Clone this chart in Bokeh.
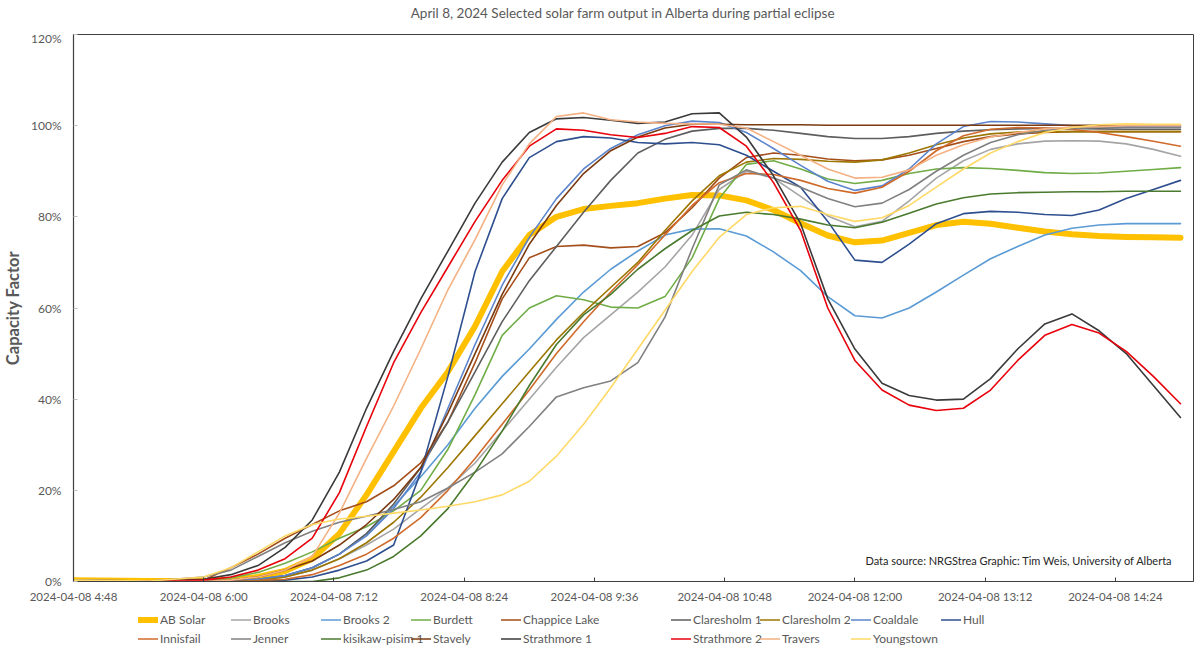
from bokeh.plotting import figure
from bokeh.layouts import column
from bokeh.models import Legend, LegendItem, FixedTicker, Label, Range1d, ColumnDataSource
from bokeh.embed import file_html
from bokeh.resources import INLINE

# ---------------- data ----------------
times = ["4:48", "5:30", "6:00", "6:15", "6:30", "6:45", "7:00", "7:15", "7:30", "7:45",
         "8:00", "8:15", "8:30", "8:45", "9:00", "9:15", "9:30", "9:45", "10:00", "10:15",
         "10:30", "10:45", "11:00", "11:15", "11:30", "11:45", "12:00", "12:15", "12:30", "12:45",
         "13:00", "13:15", "13:30", "13:45", "14:00", "14:15", "14:30", "14:45", "15:00"]

ab_solar = [0.3, 0.1, 0.1, 0.4, 1.0, 2.3, 5.0, 10.5, 19.0, 28.5, 38.0, 46.0, 56.0, 68.0, 76.0, 80.0, 81.7, 82.4, 83.0, 84.0,
            84.8, 84.7, 83.6, 81.5, 78.6, 75.9, 74.4, 74.8, 76.5, 78.2, 78.9, 78.5, 77.6, 76.8, 76.2, 75.8, 75.6, 75.5, 75.4]
brooks = [0, 0, 0, 0, 0.3, 1.0, 2.5, 5.0, 8.0, 11.5, 16.0, 20.5, 26.0, 33.0, 40.0, 47.0, 53.5, 58.5, 63.5, 69.0,
          76.0, 86.0, 90.0, 88.5, 84.5, 80.2, 77.8, 79.0, 83.5, 88.5, 92.3, 94.8, 96.0, 96.6, 96.7, 96.6, 96.0, 94.8, 93.3]
brooks_2 = [0, 0, 0, 0, 0.4, 1.2, 3.0, 6.0, 10.5, 16.5, 23.0, 30.0, 38.0, 45.0, 51.0, 57.5, 63.5, 68.5, 72.5, 76.0,
            77.3, 77.4, 75.8, 72.3, 68.2, 62.5, 58.3, 57.8, 60.0, 63.5, 67.2, 70.8, 73.5, 76.0, 77.5, 78.2, 78.5, 78.5, 78.5]
burdett = [0.2, 0, 0.2, 0.8, 2.0, 4.0, 6.5, 9.5, 12.0, 15.5, 20.0, 29.0, 41.0, 54.0, 60.0, 62.7, 61.8, 60.2, 60.0, 62.5,
           71.0, 84.0, 91.5, 92.3, 90.5, 88.3, 87.3, 88.0, 89.5, 90.5, 90.8, 90.6, 90.2, 89.7, 89.5, 89.6, 90.0, 90.4, 90.8]
chappice_lake = [0.3, 0.1, 0.3, 3.0, 6.0, 9.5, 12.5, 15.5, 17.5, 21.0, 26.0, 35.0, 48.0, 62.0, 71.0, 73.5, 73.8, 73.2, 73.5, 76.5,
                 82.0, 88.5, 93.0, 94.0, 93.5, 92.7, 92.3, 92.5, 93.5, 95.0, 96.5, 97.6, 98.2, 98.5, 98.7, 98.7, 98.7, 98.7, 98.7]
claresholm_1 = [0, 0, 0, 0, 0.5, 1.3, 3.0, 6.0, 10.5, 17.0, 25.0, 35.0, 46.0, 57.0, 66.0, 73.5, 81.0, 88.0, 94.0, 97.0,
                98.8, 99.4, 99.4, 99.0, 98.3, 97.6, 97.2, 97.2, 97.6, 98.3, 98.8, 99.1, 99.3, 99.4, 99.4, 99.3, 99.2, 99.2, 99.2]
claresholm_2 = [0, 0, 0, 0, 0.3, 1.0, 2.5, 5.0, 8.5, 13.0, 18.5, 25.0, 32.0, 39.0, 46.0, 53.0, 59.0, 64.5, 70.0, 77.0,
                83.5, 89.0, 92.0, 92.8, 92.6, 92.2, 92.0, 92.5, 94.0, 95.8, 97.3, 98.2, 98.6, 98.7, 98.7, 98.7, 98.7, 98.7, 98.7]
coaldale = [0, 0, 0, 0.2, 0.5, 1.3, 3.0, 6.0, 10.0, 16.0, 24.0, 38.0, 52.0, 65.0, 75.5, 84.0, 90.5, 95.0, 98.0, 100.0,
            101.0, 100.7, 98.5, 95.0, 91.3, 87.8, 85.8, 86.8, 90.5, 96.0, 99.8, 100.9, 100.8, 100.4, 100.0, 99.8, 99.8, 99.8, 99.8]
hull = [0, 0, 0, 0, 0, 0.3, 1.0, 2.5, 4.5, 8.0, 24.0, 45.0, 68.0, 84.0, 93.0, 96.5, 97.6, 97.3, 96.3, 96.0,
        96.3, 95.8, 93.5, 90.0, 86.5, 79.0, 70.5, 70.0, 74.0, 78.5, 80.7, 81.2, 81.0, 80.5, 80.3, 81.5, 84.0, 86.0, 88.0]
innisfail = [0, 0, 0, 0, 0.2, 0.5, 1.5, 3.5, 6.0, 9.5, 14.0, 20.0, 27.0, 34.5, 42.0, 50.0, 57.0, 63.5, 69.5, 76.0,
             82.5, 87.5, 89.5, 89.3, 88.0, 86.2, 85.2, 86.5, 90.0, 94.5, 97.8, 99.2, 99.6, 99.5, 99.2, 98.5, 97.6, 96.6, 95.5]
jenner = [0.3, 0.1, 1.0, 2.5, 5.5, 8.5, 11.0, 13.0, 14.3, 15.8, 17.5, 20.5, 24.0, 28.0, 34.0, 40.5, 42.5, 44.0, 48.0, 58.0,
          73.0, 87.0, 90.3, 88.5, 86.5, 84.0, 82.2, 83.0, 86.0, 90.0, 93.5, 96.3, 98.0, 99.0, 99.4, 99.6, 99.6, 99.6, 99.6]
kisikaw_pisim_1 = [0, 0, 0, 0, 0, 0, 0, 0.8, 2.5, 5.5, 10.0, 16.0, 24.0, 33.0, 43.0, 52.0, 58.5, 63.0, 68.5, 73.0,
                   77.0, 80.2, 81.0, 80.5, 79.5, 78.2, 77.6, 78.8, 80.8, 82.8, 84.2, 85.0, 85.3, 85.4, 85.5, 85.5, 85.6, 85.6, 85.6]
stavely = [0, 0, 0, 0.3, 1.0, 2.5, 4.5, 8.0, 12.5, 18.0, 25.0, 37.0, 50.0, 63.0, 74.0, 82.5, 89.5, 94.5, 97.5, 99.5,
           100.3, 100.3, 100.2, 100.2, 100.2, 100.1, 100.1, 100.1, 100.1, 100.1, 100.1, 100.1, 100.1, 100.1, 100.1, 100.1, 100.1, 100.1, 100.1]
strathmore_1 = [0, 0, 0.5, 1.5, 3.5, 7.5, 13.5, 24.0, 38.0, 50.5, 62.0, 72.5, 83.0, 92.0, 98.5, 101.5, 101.8, 101.2, 100.5, 100.8,
                102.6, 102.8, 97.5, 89.0, 78.5, 62.0, 51.0, 43.5, 40.8, 39.8, 40.0, 44.5, 51.0, 56.5, 58.7, 55.0, 50.0, 43.0, 36.0]
strathmore_2 = [0, 0, 0.3, 1.0, 2.5, 5.0, 9.5, 19.5, 34.0, 48.0, 59.0, 69.0, 79.0, 88.0, 95.5, 99.3, 99.0, 98.0, 97.4, 98.3,
                99.8, 99.6, 95.5, 87.5, 77.0, 60.0, 48.5, 42.0, 38.7, 37.5, 38.0, 42.0, 48.5, 54.0, 56.4, 54.5, 50.5, 45.0, 39.0]
travers = [0, 0, 0, 0.3, 1.0, 2.5, 5.5, 15.0, 27.0, 38.5, 51.0, 64.0, 75.0, 87.0, 96.0, 102.0, 102.8, 101.3, 100.8, 100.5,
           100.4, 100.3, 99.5, 96.5, 93.5, 90.5, 88.5, 88.7, 90.3, 93.5, 95.8, 97.5, 98.5, 99.3, 99.7, 99.8, 100.0, 100.0, 100.0]
youngstown = [0.3, 0.1, 1.0, 3.0, 6.5, 10.0, 12.5, 13.7, 14.3, 15.0, 15.7, 16.5, 17.5, 19.0, 22.0, 27.5, 34.5, 42.5, 51.0, 59.5,
              68.0, 75.5, 80.5, 82.0, 82.3, 80.5, 79.0, 79.8, 82.5, 86.5, 90.5, 94.0, 96.5, 98.5, 99.6, 100.2, 100.4, 100.3, 100.3]

series_names = ["AB Solar", "Brooks", "Brooks 2", "Burdett", "Chappice Lake", "Claresholm 1", "Claresholm 2",
                "Coaldale", "Hull", "Innisfail", "Jenner", "kisikaw-pisim 1", "Stavely", "Strathmore 1",
                "Strathmore 2", "Travers", "Youngstown"]
series_values = [ab_solar, brooks, brooks_2, burdett, chappice_lake, claresholm_1, claresholm_2, coaldale, hull,
                 innisfail, jenner, kisikaw_pisim_1, stavely, strathmore_1, strathmore_2, travers, youngstown]

x_tick_times = ["4:48", "6:00", "7:12", "8:24", "9:36", "10:48", "12:00", "13:12", "14:24"]
x_tick_labels = ["2024-04-08 " + t for t in x_tick_times]
y_ticks = [0, 20, 40, 60, 80, 100, 120]
y_tick_labels = ["0%", "20%", "40%", "60%", "80%", "100%", "120%"]

title_text = "April 8, 2024 Selected solar farm output in Alberta during partial eclipse"
source_text = "Data source: NRGStrea Graphic: Tim Weis, University of Alberta"

# ---------------- styles ----------------
colors = {
    "AB Solar": "#FFC000", "Brooks": "#A5A5A5", "Brooks 2": "#5B9BD5", "Burdett": "#70AD47",
    "Chappice Lake": "#A44E1A", "Claresholm 1": "#5E5E5E", "Claresholm 2": "#9C7600",
    "Coaldale": "#5B84CC", "Hull": "#2E4F8F", "Innisfail": "#D06A2A", "Jenner": "#808080",
    "kisikaw-pisim 1": "#4A7A2E", "Stavely": "#7B3A10", "Strathmore 1": "#3A3A3A",
    "Strathmore 2": "#E8000B", "Travers": "#F4B183", "Youngstown": "#FFD966",
}
FONT = "Lato"
TXT = "#595959"


def to_h(s):
    h, m = s.split(":")
    return int(h) + int(m) / 60.0


x = [to_h(t) for t in times]
x_ticks = [to_h(t) for t in x_tick_times]

W = 1198
FRAME_L, FRAME_R = 70, 1193
H_TITLE = 30
H_MAIN = 576          # frame from page y 34 to 581
H_LEG = 42


def strip(height):
    f = figure(width=W, height=height, output_backend="svg", toolbar_location=None,
               x_axis_location=None, y_axis_location=None,
               x_range=Range1d(0, 1), y_range=Range1d(0, 1),
               min_border_left=FRAME_L, min_border_right=W - FRAME_R,
               min_border_top=0, min_border_bottom=0)
    f.xgrid.visible = False
    f.ygrid.visible = False
    f.outline_line_color = None
    f.background_fill_color = "white"
    f.border_fill_color = "white"
    return f


# title strip
t = strip(H_TITLE)
t.add_layout(Label(x=(621 - FRAME_L) / (FRAME_R - FRAME_L), y=(H_TITLE - 12) / H_TITLE,
                   text=title_text, text_align="center", text_baseline="middle",
                   text_font=FONT, text_font_size="13.5px", text_color=TXT))

# main chart
p = figure(width=W, height=H_MAIN, output_backend="svg", toolbar_location=None,
           x_range=Range1d(4.8, 15.12), y_range=Range1d(0, 120),
           min_border_left=FRAME_L, min_border_right=W - FRAME_R,
           min_border_top=34 - H_TITLE, min_border_bottom=H_MAIN - (581 - H_TITLE))

p.xgrid.visible = False
p.ygrid.visible = False
p.outline_line_color = "#3F3F3F"
p.outline_line_width = 1
p.background_fill_color = "white"
p.border_fill_color = "white"

p.xaxis.ticker = FixedTicker(ticks=x_ticks)
p.xaxis.major_label_overrides = dict(zip(x_ticks, x_tick_labels))
p.yaxis.ticker = FixedTicker(ticks=y_ticks)
p.yaxis.major_label_overrides = dict(zip(y_ticks, y_tick_labels))
for ax in (p.xaxis[0], p.yaxis[0]):
    ax.axis_line_color = "#3F3F3F"
    ax.axis_line_width = 1.2
    ax.major_tick_line_color = "#3F3F3F"
    ax.major_tick_in = 4
    ax.major_tick_out = 0
    ax.minor_tick_line_color = None
    ax.major_label_text_font = FONT
    ax.major_label_text_color = TXT
p.xaxis.major_label_text_font_size = "11.5px"
p.yaxis.major_label_text_font_size = "12px"
p.xaxis.major_label_standoff = 8
p.yaxis.major_label_standoff = 12
p.yaxis.major_tick_line_color = "#BFBFBF"
p.yaxis.axis_label = "Capacity Factor"
p.yaxis.axis_label_text_font = FONT
p.yaxis.axis_label_text_font_size = "16.5px"
p.yaxis.axis_label_text_font_style = "bold"
p.yaxis.axis_label_text_color = TXT
p.yaxis.axis_label_standoff = 5

p.add_layout(Label(x=14.93, y=4.6, text=source_text, text_align="right", text_baseline="middle",
                   text_font=FONT, text_font_size="11px", text_color="#262626"))

# legend strip: same series, drawn off-range so only the legend swatches show
q = strip(H_LEG)

legend_renderers = {}
for name, vals in zip(series_names, series_values):
    src = ColumnDataSource(dict(x=x, y=vals))
    w = 6 if name == "AB Solar" else 1.6
    p.line("x", "y", source=src, line_color=colors[name], line_width=w,
           line_join="round", line_cap="round")
    legend_renderers[name] = q.line("x", "y", source=src, line_color=colors[name], line_width=w,
                                    line_cap="round")

legend_rows = [series_names[:9], series_names[9:]]
col_x = [135, 228, 318, 408, 498, 668, 757, 848, 938]   # page x of each legend column
for c, cx in enumerate(col_x):
    items = [LegendItem(label=row[c], renderers=[legend_renderers[row[c]]])
             for row in legend_rows if c < len(row)]
    leg = Legend(items=items, location=(cx - FRAME_L, 38 - 19 * len(items)), orientation="vertical",
                 padding=0, margin=0, spacing=0, glyph_width=20, glyph_height=19,
                 label_height=19, label_standoff=2, label_text_font=FONT,
                 label_text_font_size="12px", label_text_color=TXT,
                 border_line_alpha=0, background_fill_alpha=0)
    q.add_layout(leg, "center")

layout = column(t, p, q, spacing=0)
open("out.html", "w").write(file_html(layout, INLINE))
